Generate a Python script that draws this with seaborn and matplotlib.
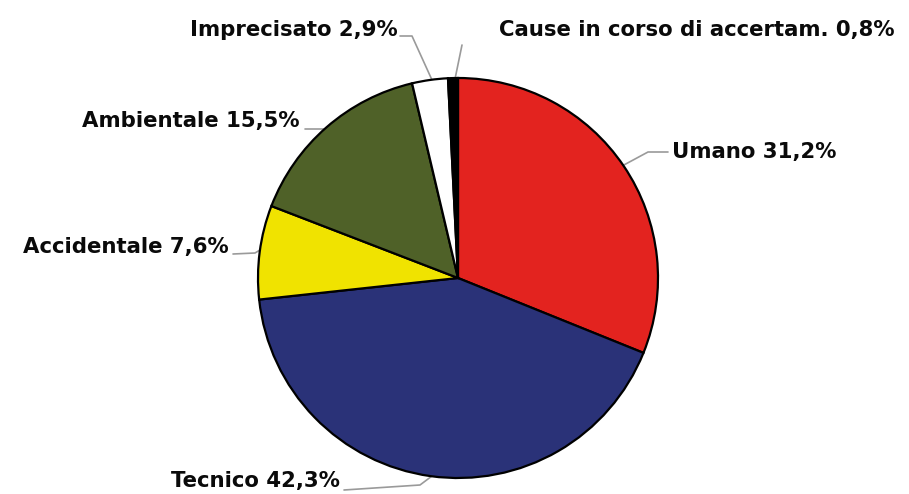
import matplotlib
matplotlib.use("Agg")
import matplotlib.pyplot as plt
import seaborn as sns

categories = ["Umano", "Tecnico", "Accidentale", "Ambientale", "Imprecisato", "Cause in corso di accertam."]
values = [31.2, 42.3, 7.6, 15.5, 2.9, 0.8]
value_labels = ["31,2%", "42,3%", "7,6%", "15,5%", "2,9%", "0,8%"]
colors = ["#E3231F", "#2A3278", "#F0E300", "#4F6128", "#FFFFFF", "#000000"]

sns.set_style("white")
plt.rcParams['font.family'] = ['DejaVu Sans']

W, H = 909, 494
fig = plt.figure(figsize=(W / 100, H / 100), dpi=100)
ax = fig.add_axes([0, 0, 1, 1])

cx, cy, r = 458, H - 278, 200
ax.pie(values, colors=sns.color_palette(colors), startangle=90, counterclock=False,
       center=(cx, cy), radius=r, frame=True,
       wedgeprops=dict(edgecolor="black", linewidth=1.6))
ax.set_xlim(0, W)
ax.set_ylim(0, H)
ax.set_aspect('equal')
ax.axis('off')

def Y(y):
    return H - y

# label layout: (text x, text y, ha, leader line points in pixel coords)
layout = [
    (672, 152, "left",  [(668, 152), (648, 152), (622, 166)]),
    (340, 481, "right", [(344, 490), (420, 485), (432, 476)]),
    (229, 247, "right", [(233, 254), (255, 253), (260, 250)]),
    (300, 121, "right", [(305, 129), (330, 129)]),
    (398, 30,  "right", [(400, 36), (412, 36), (432, 80)]),
    (499, 30,  "left",  [(462, 45), (455, 79)]),
]

for cat, lab, (tx, ty, ha, pts) in zip(categories, value_labels, layout):
    ax.text(tx, Y(ty), f"{cat} {lab}", ha=ha, va="center", fontsize=15.3,
            fontweight="bold", color="#0a0a0a")
    xs = [p[0] for p in pts]
    ys = [Y(p[1]) for p in pts]
    ax.plot(xs, ys, color="#9a9a9a", linewidth=1.2, zorder=0.5)

fig.savefig("out.png", dpi=100, facecolor="white")
